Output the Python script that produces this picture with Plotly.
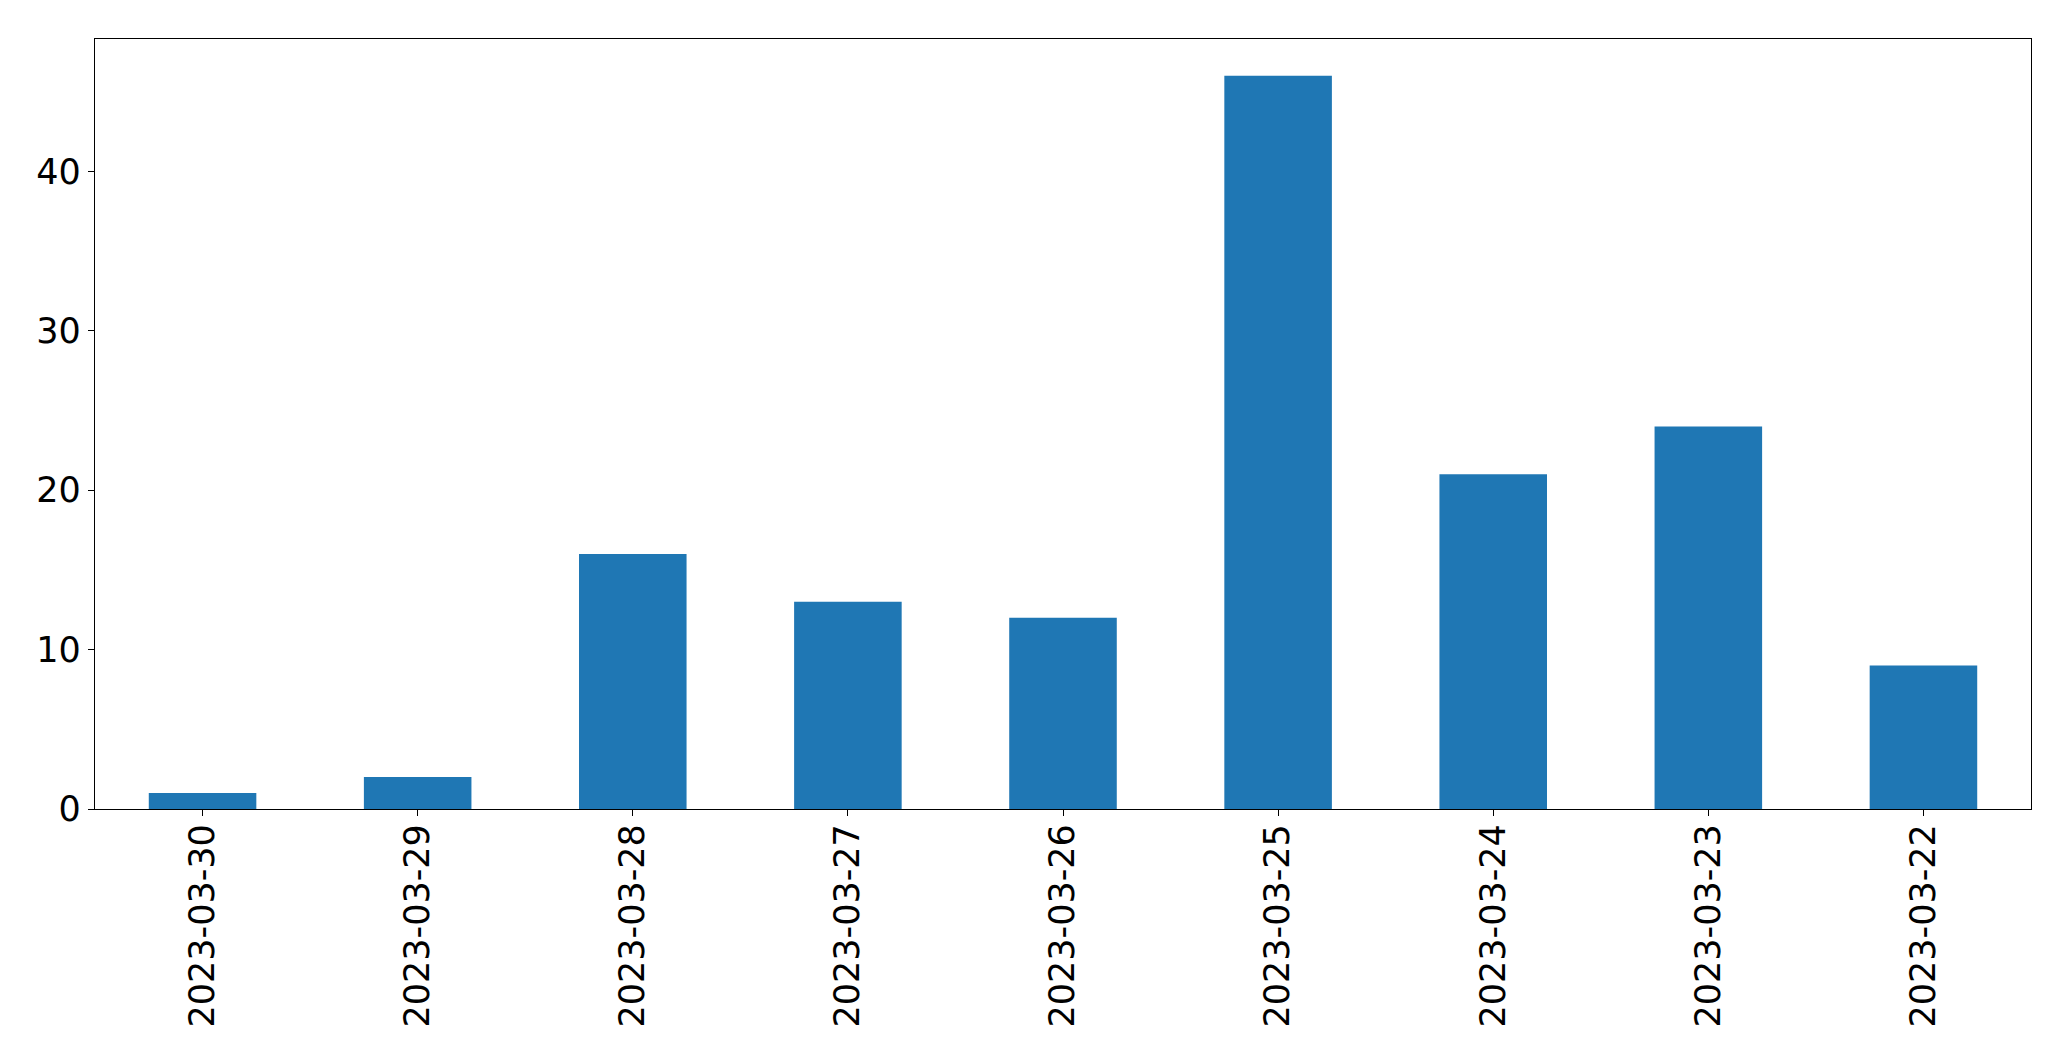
import plotly.graph_objects as go

dates = ["2023-03-30", "2023-03-29", "2023-03-28", "2023-03-27", "2023-03-26",
         "2023-03-25", "2023-03-24", "2023-03-23", "2023-03-22"]
counts = [1, 2, 16, 13, 12, 46, 21, 24, 9]
y_ticks = [0, 10, 20, 30, 40]

fig = go.Figure(go.Bar(x=dates, y=counts, marker_color="#1f77b4", marker_line_width=0, width=0.5))

fig.update_layout(
    width=2071, height=1061,
    margin=dict(l=87, r=48, t=31, b=260, pad=0),
    paper_bgcolor="white", plot_bgcolor="white",
    font=dict(family="DejaVu Sans", size=35, color="black"),
    showlegend=False, bargap=0.5,
)
fig.update_xaxes(
    type="category", range=[-0.5, 8.5], tickangle=-90, automargin=False,
    showline=True, linecolor="black", linewidth=1.3, mirror=True,
    ticks="outside", ticklen=6, tickwidth=1.3, tickcolor="black",
    showgrid=False, zeroline=False, ticklabelstandoff=-6,
)
fig.update_yaxes(
    range=[0, 48.3], tickvals=y_ticks, automargin=False,
    showline=True, linecolor="black", linewidth=1.3, mirror=True,
    ticks="outside", ticklen=6, tickwidth=1.3, tickcolor="black",
    showgrid=False, zeroline=False,
)
fig.write_html("out.html")
